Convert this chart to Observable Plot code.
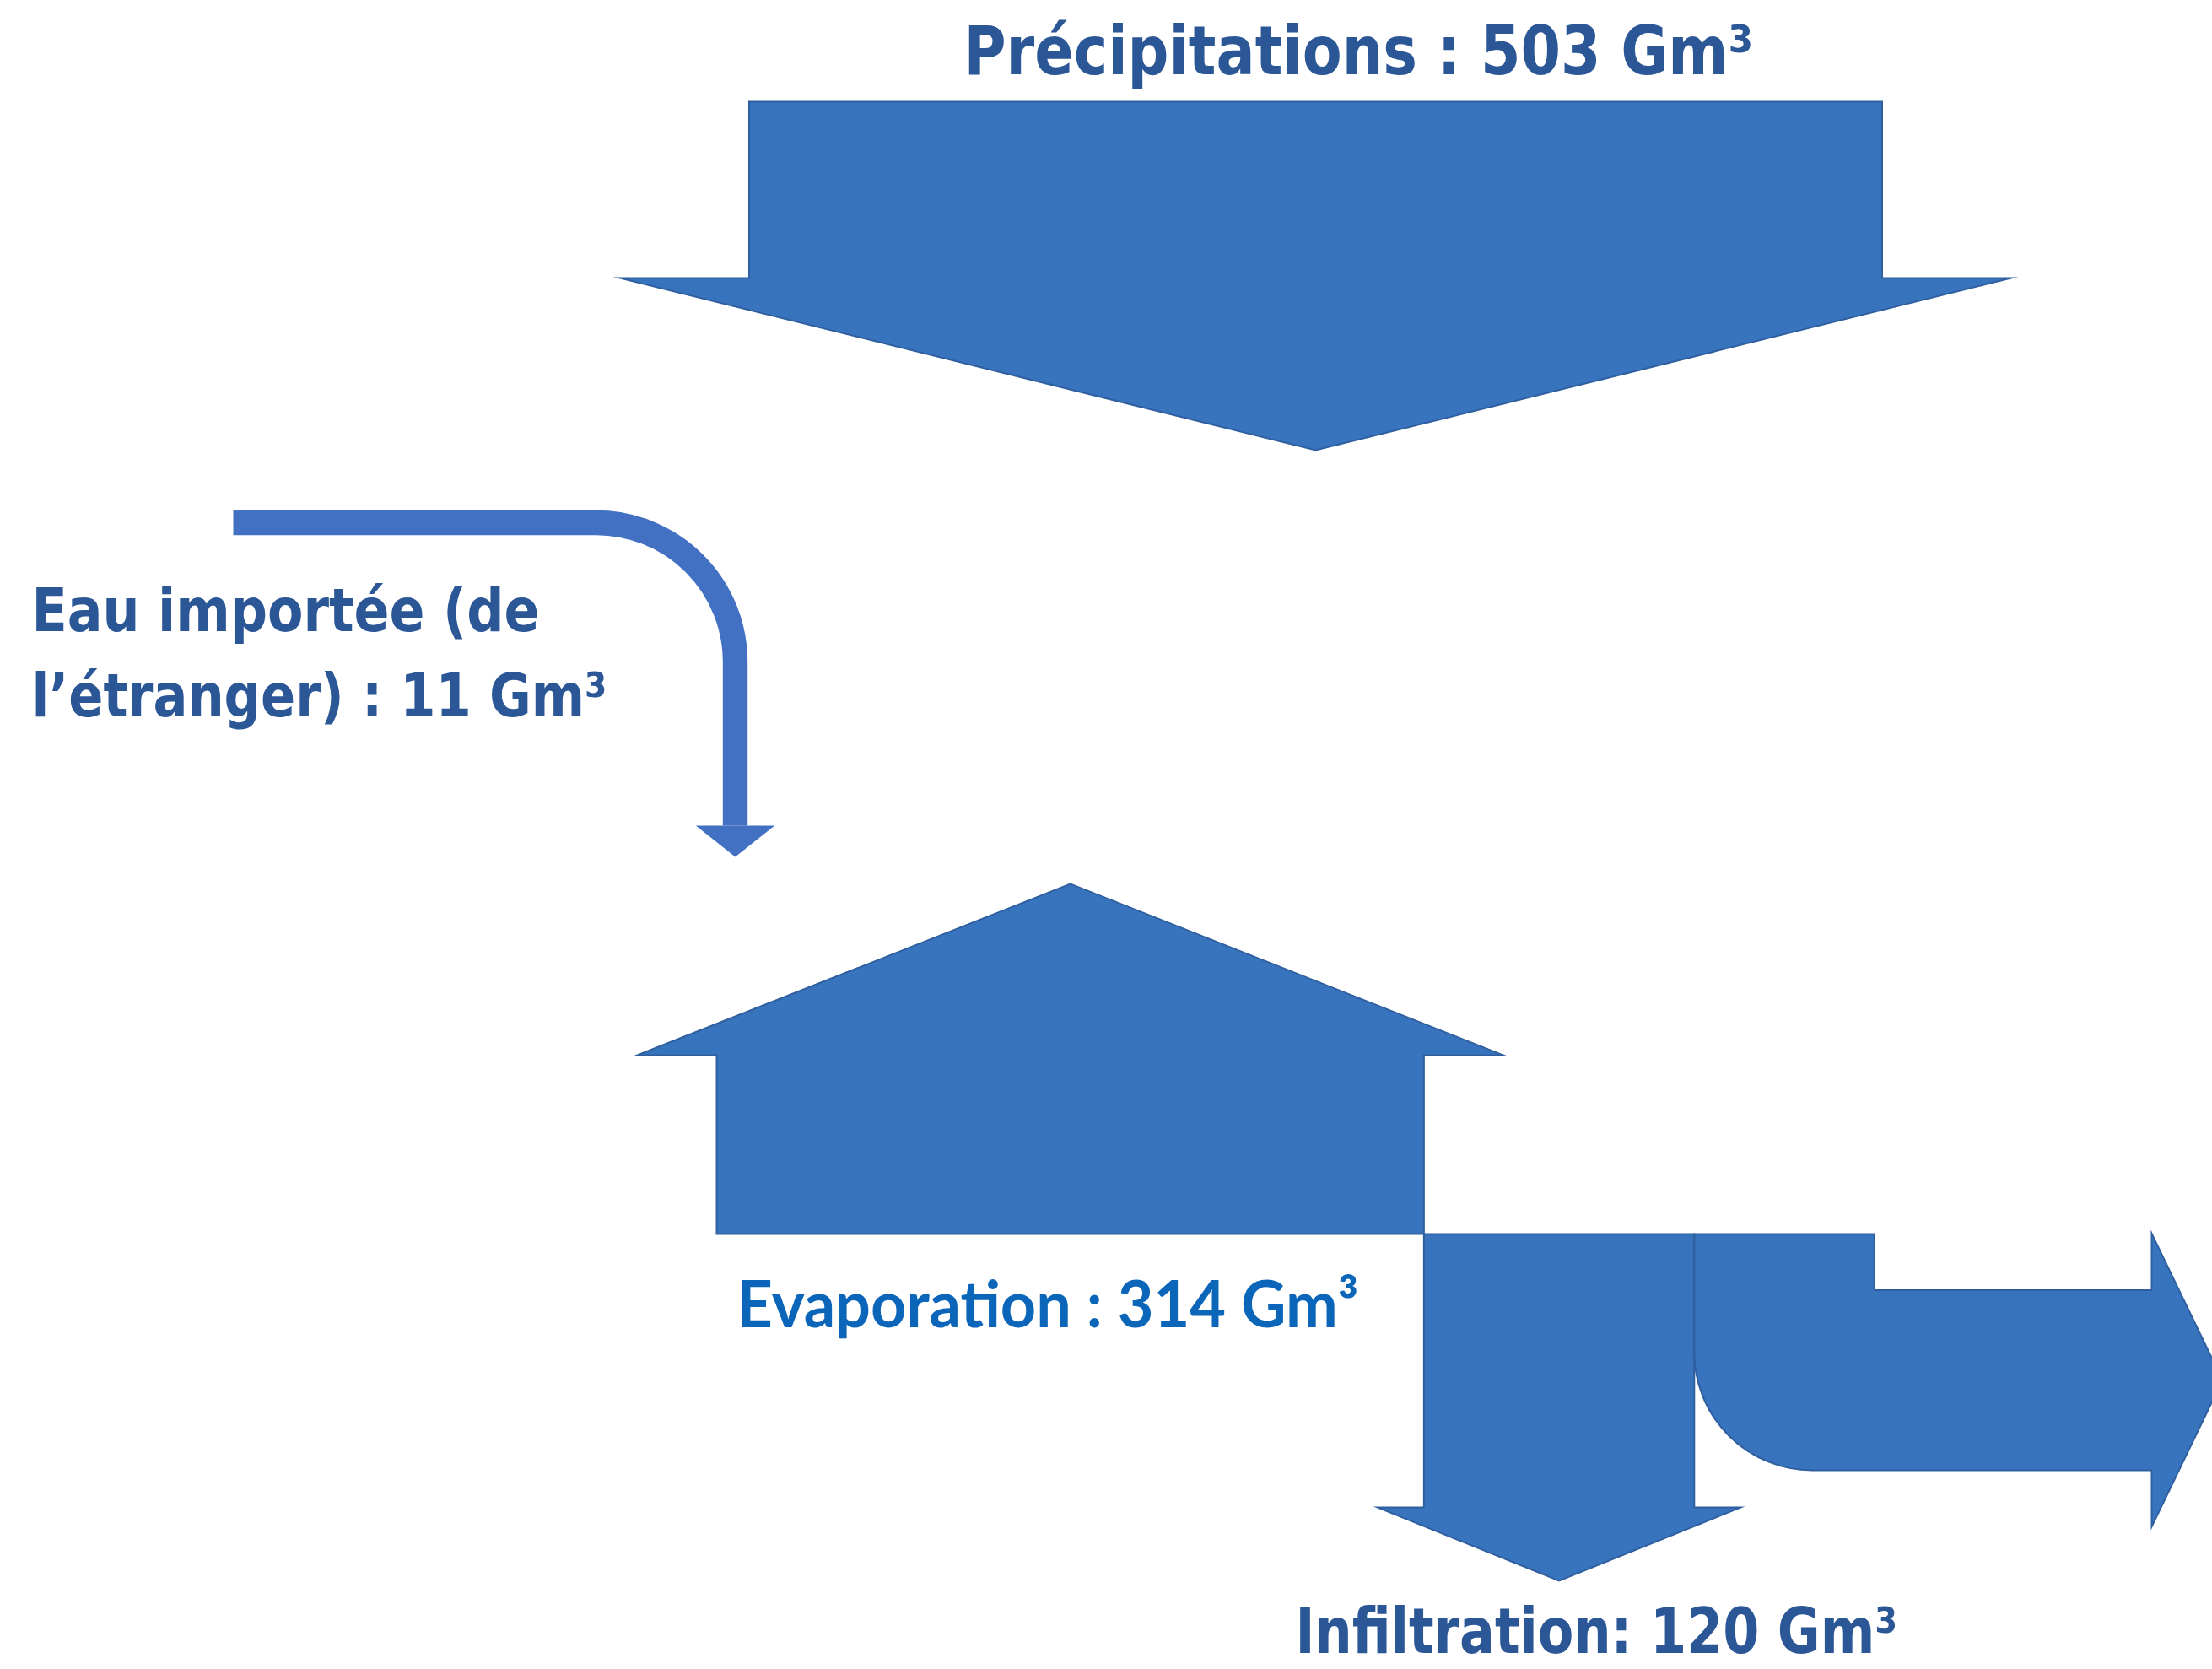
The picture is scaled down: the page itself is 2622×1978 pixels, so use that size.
<!DOCTYPE html>
<html>
<head>
<meta charset="utf-8">
<script src="https://cdn.jsdelivr.net/npm/d3@7"></script>
<script src="https://cdn.jsdelivr.net/npm/@observablehq/plot@0.6"></script>
<style>
  html, body { margin: 0; padding: 0; background: #ffffff; }
  #chart svg { display: block; }
</style>
</head>
<body>
<div id="chart"></div>
<script>
// Annual water balance, in Gm³
const flows = ["Précipitations", "Eau importée", "Evaporation", "Infiltration", "Ruissellement"];
const volumes = [503, 11, 314, 120, 80];
// Label text for each flow ({v} is replaced by the volume); the runoff is left unlabelled
const labelTemplates = [
  ["Précipitations : {v} Gm³"],
  ["Eau importée (de", "l’étranger) : {v} Gm³"],
  ["Evaporation : {v} Gm³"],
  ["Infiltration: {v} Gm³"],
  []
];

// Drawing layout, in pixels. Arrow thickness is proportional to the volume.
const W = 2622, H = 1978;
const pxPerGm3 = 2.67;
const layout = {
  precip:  {cx: 1559, top: 120, neck: 329, tip: 533, barb: 153},
  imported:{x0: 276, y: 619, xv: 871, radius: 165, neck: 978, tip: 1015, barb: 32},
  evap:    {x0: 849, base: 1462, neck: 1250, tip: 1047, barb: 94},
  infil:   {top: 1462, neck: 1786, tip: 1873, barb: 55},
  runoff:  {top: 1462, bottom: 1742, neck: 2550, tip: 2634, barb: 67, radius: 140}
};
const labelStyle = [
  {x: [1142], y: [87], width: [936], size: 80},
  {x: [37, 37], y: [747, 848], width: [602, 682], size: 72},
  {x: [873], y: [1572], width: [737], size: 76},
  {x: [1535], y: [1958], width: [714], size: 75},
  {x: [], y: [], width: [], size: 0}
];
const fillBlue = "#3874be", edgeBlue = "#2f5f9f", importBlue = "#4270c2";
const labelBlue = "#2c5796", evapBlue = "#0b66ba";

const vol = (name) => volumes[flows.indexOf(name)];
const thick = (name) => vol(name) * pxPerGm3;
const pts = (...xy) => xy.map(([x, y]) => ({x, y}));

// Polyline curve that can round chosen vertices with a circular arc (radius per vertex index)
function roundedPath(radii = [], closed = true) {
  return (context) => {
    let p = [];
    return {
      areaStart() {}, areaEnd() {},
      lineStart() { p = []; },
      point(x, y) { p.push([+x, +y]); },
      lineEnd() {
        const n = p.length;
        if (!n) return;
        context.moveTo(p[0][0], p[0][1]);
        for (let i = 1; i < n; ++i) {
          const r = radii[i] || 0;
          const next = i < n - 1 ? p[i + 1] : closed ? p[0] : null;
          if (r && next) context.arcTo(p[i][0], p[i][1], next[0], next[1], r);
          else context.lineTo(p[i][0], p[i][1]);
        }
        if (closed) context.closePath();
      }
    };
  };
}

// Precipitation: downward arrow
const P = layout.precip, wP = thick("Précipitations");
const precipShape = pts(
  [P.cx - wP / 2, P.top], [P.cx + wP / 2, P.top], [P.cx + wP / 2, P.neck],
  [P.cx + wP / 2 + P.barb, P.neck], [P.cx, P.tip],
  [P.cx - wP / 2 - P.barb, P.neck], [P.cx - wP / 2, P.neck]
);

// Evaporation: upward arrow
const E = layout.evap, wE = thick("Evaporation"), eR = E.x0 + wE, eC = E.x0 + wE / 2;
const evapShape = pts(
  [E.x0, E.base], [E.x0, E.neck], [E.x0 - E.barb, E.neck], [eC, E.tip],
  [eR + E.barb, E.neck], [eR, E.neck], [eR, E.base]
);

// Infiltration: downward arrow starting at the right of the evaporation
const I = layout.infil, wI = thick("Infiltration"), iL = eR, iR = iL + wI, iC = iL + wI / 2;
const infilShape = pts(
  [iL, I.top], [iR, I.top], [iR, I.neck], [iR + I.barb, I.neck], [iC, I.tip],
  [iL - I.barb, I.neck], [iL, I.neck]
);

// Runoff: bent arrow going down then right
const R = layout.runoff, wR = thick("Ruissellement"), rL = iR, rS = rL + wR, rUp = R.bottom - wR;
const runoffShape = pts(
  [rL, R.top], [rS, R.top], [rS, rUp], [R.neck, rUp], [R.neck, rUp - R.barb],
  [R.tip, R.bottom - wR / 2], [R.neck, R.bottom + R.barb], [R.neck, R.bottom], [rL, R.bottom]
);
const runoffRadii = []; runoffRadii[8] = R.radius;

// Imported water: thin bent arrow
const M = layout.imported, wM = thick("Eau importée");
const importLine = pts([M.x0, M.y], [M.xv, M.y], [M.xv, M.neck]);
const importRadii = [0, M.radius];
const importHead = pts([M.xv - wM / 2 - M.barb, M.neck], [M.xv + wM / 2 + M.barb, M.neck], [M.xv, M.tip]);

// Label rows
const labels = [];
labelTemplates.forEach((lines, i) => {
  lines.forEach((t, j) => {
    labels.push({
      flow: flows[i],
      text: t.replace("{v}", volumes[i]),
      x: labelStyle[i].x[j], y: labelStyle[i].y[j],
      width: labelStyle[i].width[j], size: labelStyle[i].size
    });
  });
});
const calibriLike = labels.filter(d => d.flow !== "Evaporation");
const geometricLike = labels.filter(d => d.flow === "Evaporation");

const shapeMark = (data, radii) => Plot.line(data, {
  x: "x", y: "y", fill: fillBlue, stroke: edgeBlue, strokeWidth: 2,
  strokeLinejoin: "miter", strokeMiterlimit: 10, curve: roundedPath(radii, true)
});

const chart = Plot.plot({
  width: W, height: H,
  margin: 0,
  x: {type: "identity", axis: null},
  y: {type: "identity", axis: null},
  style: {background: "#ffffff"},
  marks: [
    shapeMark(precipShape),
    shapeMark(evapShape),
    shapeMark(infilShape),
    shapeMark(runoffShape, runoffRadii),
    Plot.line(importLine, {
      x: "x", y: "y", stroke: importBlue, strokeWidth: wM, fill: "none",
      strokeLinecap: "butt", strokeLinejoin: "miter", curve: roundedPath(importRadii, false)
    }),
    Plot.line(importHead, {x: "x", y: "y", fill: importBlue, stroke: "none", curve: "linear-closed"}),
    Plot.text(calibriLike, {
      x: "x", y: "y", text: "text", fontSize: "size", textAnchor: "start", lineAnchor: "bottom",
      fill: labelBlue, fontWeight: "bold",
      fontFamily: "'Liberation Sans Narrow', 'DejaVu Sans Condensed', 'Open Sans', sans-serif"
    }),
    Plot.text(geometricLike, {
      x: "x", y: "y", text: "text", fontSize: "size", textAnchor: "start", lineAnchor: "bottom",
      fill: evapBlue, fontWeight: "bold",
      fontFamily: "Lato, 'Open Sans', sans-serif"
    })
  ]
});

// Fit each label to its measured width
const byText = new Map(labels.map(d => [d.text, d]));
chart.querySelectorAll('g[aria-label="text"] text').forEach(el => {
  const d = byText.get(el.textContent);
  if (d) {
    el.setAttribute("textLength", d.width);
    el.setAttribute("lengthAdjust", "spacingAndGlyphs");
  }
});

document.getElementById("chart").appendChild(chart);
</script>
</body>
</html>
